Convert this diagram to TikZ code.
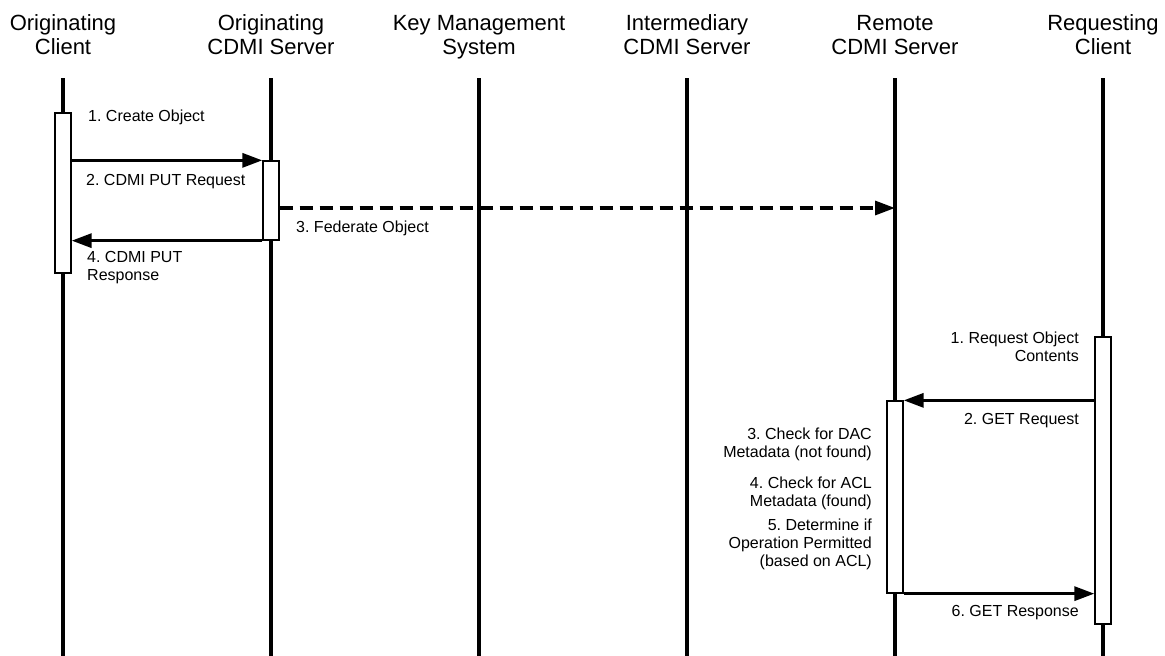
\documentclass[tikz,border=0pt]{standalone}
\usepackage{fontspec}
\setmainfont{Liberation Sans}
\usetikzlibrary{arrows.meta}
\frenchspacing
\begin{document}
\begin{tikzpicture}[x=1pt,y=-1pt,
  head/.style={font=\fontsize{22}{24}\selectfont, align=center, anchor=base, inner sep=0},
  lbl/.style={font=\fontsize{16}{18}\selectfont, inner sep=0},
  lblL/.style={lbl, align=left, anchor=base west},
  lblR/.style={lbl, align=right, anchor=base east},
  lifeline/.style={line width=3.2pt},
  actbox/.style={rectangle, draw, fill=white, line width=1.3pt, minimum width=16pt, inner sep=0},
  msg/.style={line width=3.2pt, -{Triangle[length=20pt,width=14pt]}},
  fedmsg/.style={msg, dash pattern=on 13pt off 7pt}
]
\useasboundingbox (0,0) rectangle (1165,656);

% participants (base anchor = baseline of the last line)
\node[head] (h-oc) at (63,54)   {Originating\\Client};
\node[head] (h-os) at (271,54)  {Originating\\CDMI Server};
\node[head] (h-km) at (479,54)  {Key Management\\System};
\node[head] (h-is) at (687,54)  {Intermediary\\CDMI Server};
\node[head] (h-rs) at (895,54)  {Remote\\CDMI Server};
\node[head] (h-rq) at (1103,54) {Requesting\\Client};

% lifelines
\foreach \n/\x in {oc/63, os/271, km/479, is/687, rs/895, rq/1103} {
  \coordinate (\n-top) at (\x,78);
  \coordinate (\n-bot) at (\x,656);
  \draw[lifeline] (\n-top) -- (\n-bot);
}

% activation bars
\node[actbox, minimum height=160pt] (ocbox) at (63,193) {};
\node[actbox, minimum height=79pt]  (osbox) at (271,200.5) {};
\node[actbox, minimum height=192pt] (rsbox) at (895,497) {};
\node[actbox, minimum height=287pt] (rqbox) at (1103,480.5) {};

% messages
\draw[msg] (ocbox.east |- osbox.north) -- (osbox.north west);
\draw[msg] (osbox.south west) -- (ocbox.east |- osbox.south);
\draw[fedmsg] (osbox.east |- 0,208) -- (rs-top |- 0,208);
\draw[msg] (rqbox.west |- rsbox.north) -- (rsbox.north east);
\draw[msg] (rsbox.south east) -- (rqbox.west |- rsbox.south);

% message labels (base anchor = baseline of the last line)
\node[lblL] (t-create) at (88,121)  {1. Create Object};
\node[lblL] (t-put)    at (86,185)  {2. CDMI PUT Request};
\node[lblL] (t-fed)    at (296,232) {3. Federate Object};
\node[lblL] (t-putr)   at (87,280)  {4. CDMI PUT\\Response};
\node[lblR] (t-req)    at (1079,361) {1. Request Object\\Contents};
\node[lblR] (t-get)    at (1079,424) {2. GET Request};
\node[lblR] (t-dac)    at (872,457)  {3. Check for DAC\\Metadata (not found)};
\node[lblR] (t-acl)    at (872,506)  {4. Check for ACL\\Metadata (found)};
\node[lblR] (t-perm)   at (872,566)  {5. Determine if\\Operation Permitted\\(based on ACL)};
\node[lblR] (t-getr)   at (1079,616) {6. GET Response};
\end{tikzpicture}
\end{document}
